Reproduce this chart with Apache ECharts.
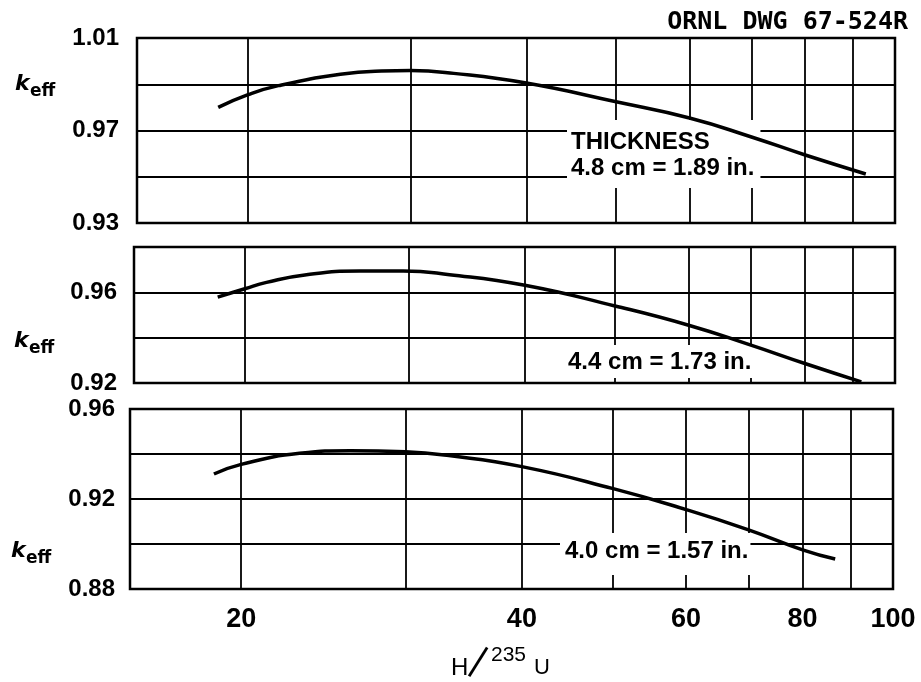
<!DOCTYPE html>
<html>
<head>
<meta charset="utf-8">
<script src="https://cdn.jsdelivr.net/npm/echarts@6/dist/echarts.min.js"></script>
<style>html,body{margin:0;padding:0;background:#fff;}#c{width:921px;height:682px;}</style>
</head>
<body>
<div id="c"></div>
<script>
// ---- data ----
const xTicks = [20, 30, 40, 50, 60, 70, 80, 90, 100];
const xTickLabels = [20, 40, 60, 80, 100];

const yTicksTop = [0.93, 0.95, 0.97, 0.99, 1.01];
const yLabelsTop = [0.93, 0.97, 1.01];
const yTicksMid = [0.92, 0.94, 0.96, 0.98];
const yLabelsMid = [0.92, 0.96];
const yTicksBot = [0.88, 0.90, 0.92, 0.94, 0.96];
const yLabelsBot = [0.88, 0.92, 0.96];

const hTop = [18.6, 20, 21.6, 25.2, 27.9, 30, 33.4, 40, 50, 60, 70, 80, 93];
const kTop = [0.980, 0.9854, 0.9894, 0.9943, 0.9957, 0.9959, 0.9947, 0.9905, 0.9824, 0.9754, 0.9672, 0.9594, 0.9512];

const hMid = [18.7, 20, 21.1, 23.3, 26.6, 29.6, 33.2, 40, 50, 60, 70, 80, 92];
const kMid = [0.9579, 0.9616, 0.9644, 0.9678, 0.9694, 0.9694, 0.9678, 0.9631, 0.9540, 0.9455, 0.9367, 0.9286, 0.9205];

const hBot = [18.7, 20, 23.1, 26.2, 30, 33.4, 40, 50, 60, 70, 80, 86.7];
const kBot = [0.9311, 0.9354, 0.9403, 0.9415, 0.9410, 0.9393, 0.9344, 0.9247, 0.9153, 0.9063, 0.8974, 0.8933];

const seriesLabels = ['4.8 cm = 1.89 in.', '4.4 cm = 1.73 in.', '4.0 cm = 1.57 in.'];
const titleText = 'ORNL DWG 67-524R';

// ---- chart ----
const chart = echarts.init(document.getElementById('c'), null, {renderer: 'canvas'});
const FONT = '"Liberation Sans"';
const zip = (a, b) => a.map((v, i) => [v, b[i]]);

const grids = [
  {left: 137, width: 758, top: 38, height: 185},
  {left: 134, width: 761, top: 247, height: 136},
  {left: 130, width: 763, top: 409, height: 180}
].map(g => Object.assign({show: true, borderColor: '#000', borderWidth: 2.5, backgroundColor: 'transparent'}, g));

function xAxis(i, showLabels) {
  return {
    type: 'log', gridIndex: i, min: 15.2, max: 100, logBase: 10,
    axisLine: {show: false},
    axisTick: {show: false, customValues: xTicks},
    splitLine: {show: true, lineStyle: {color: '#000', width: 1.8}},
    axisLabel: showLabels ? {show: true, customValues: xTickLabels, margin: 17,
      fontFamily: FONT, fontSize: 27, fontWeight: 'bold', color: '#000',
      formatter: v => String(Math.round(v))} : {show: false}
  };
}
function yAxis(i, min, max, ticks, labels, margin) {
  return {
    type: 'value', gridIndex: i, min: min, max: max,
    axisLine: {show: false},
    axisTick: {show: false, customValues: ticks},
    splitLine: {show: true, lineStyle: {color: '#000', width: 1.8}},
    axisLabel: {show: true, customValues: labels, margin: margin,
      fontFamily: FONT, fontSize: 24, fontWeight: 'bold', color: '#000',
      formatter: v => v.toFixed(2)}
  };
}

const lineStyle = {color: '#000', width: 3.5};
function curve(i, h, k) {
  return {
    type: 'line', xAxisIndex: i, yAxisIndex: i, data: zip(h, k),
    smooth: 0.5, showSymbol: false, symbol: 'none', lineStyle: lineStyle, z: 5,
    animation: false
  };
}

function keff(x, y) {
  return [
    {type: 'text', x: x, y: y, z: 1, style: {text: 'k', fill: '#000',
      font: 'italic bold 22px "DejaVu Sans"', align: 'left', verticalAlign: 'middle'}},
    {type: 'text', x: x + 15, y: y + 8, z: 1, style: {text: 'eff', fill: '#000',
      font: 'bold 17px "DejaVu Sans"', align: 'left', verticalAlign: 'middle'}}
  ];
}

const annFont = 'bold 24px ' + FONT;
const graphics = [
  {type: 'text', x: 908, y: 22, z: 1, style: {text: titleText, fill: '#000',
    font: 'bold 25px "DejaVu Sans Mono"', align: 'right', verticalAlign: 'middle'}},
  // annotations with white background
  {type: 'text', x: 567, y: 120, z: 1, style: {text: 'THICKNESS\n' + seriesLabels[0], fill: '#000',
    font: annFont, lineHeight: 26, align: 'left', verticalAlign: 'top',
    backgroundColor: '#fff', padding: [9, 6, 7, 4]}},
  {type: 'text', x: 555, y: 345, z: 1, style: {text: seriesLabels[1], fill: '#000',
    font: annFont, lineHeight: 26, align: 'left', verticalAlign: 'top',
    backgroundColor: '#fff', padding: [4, 6, 3, 13]}},
  {type: 'text', x: 560, y: 533, z: 1, style: {text: seriesLabels[2], fill: '#000',
    font: annFont, lineHeight: 26, align: 'left', verticalAlign: 'top',
    backgroundColor: '#fff', padding: [5, 2, 11, 5]}},
  // x axis title H/235U
  {type: 'text', x: 451, y: 668, z: 1, style: {text: 'H', fill: '#000', font: '24px ' + FONT, align: 'left', verticalAlign: 'middle'}},
  {type: 'text', x: 478, y: 662, z: 1, rotation: -0.56, style: {text: '|', fill: '#000', font: '34px "DejaVu Sans"', align: 'center', verticalAlign: 'middle'}},
  {type: 'text', x: 491, y: 655, z: 1, style: {text: '235', fill: '#000', font: '21px ' + FONT, align: 'left', verticalAlign: 'middle'}},
  {type: 'text', x: 534, y: 668, z: 1, style: {text: 'U', fill: '#000', font: '22px ' + FONT, align: 'left', verticalAlign: 'middle'}}
].concat(keff(15, 84), keff(14, 341), keff(11, 551));

chart.setOption({
  animation: false,
  backgroundColor: '#fff',
  grid: grids,
  xAxis: [xAxis(0, false), xAxis(1, false), xAxis(2, true)],
  yAxis: [
    yAxis(0, 0.93, 1.01, yTicksTop, yLabelsTop, 18),
    yAxis(1, 0.92, 0.98, yTicksMid, yLabelsMid, 17),
    yAxis(2, 0.88, 0.96, yTicksBot, yLabelsBot, 15)
  ],
  series: [curve(0, hTop, kTop), curve(1, hMid, kMid), curve(2, hBot, kBot)],
  graphic: graphics
});
</script>
</body>
</html>
